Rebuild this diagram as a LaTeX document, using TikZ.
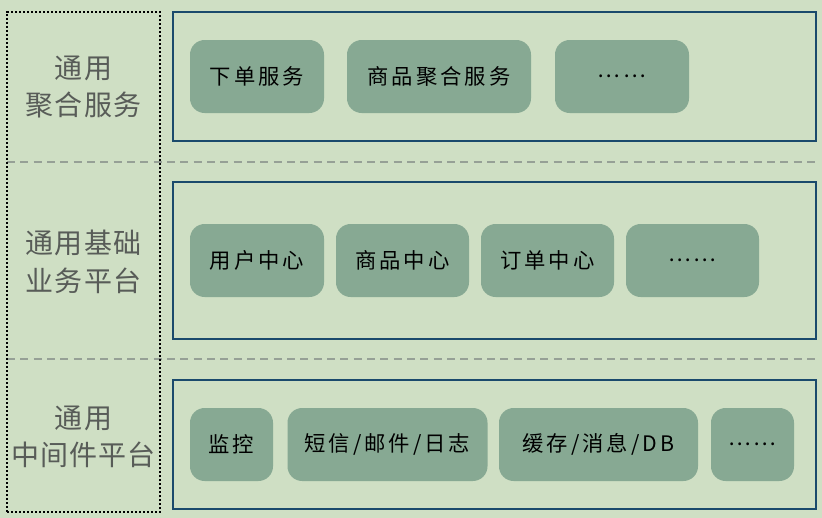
\documentclass[tikz,border=0pt]{standalone}
\usepackage{fontspec}
\usepackage{xcolor}
\newfontfamily\cjk[LetterSpace=14]{Noto Sans CJK SC}
\newfontfamily\cjklabel[LetterSpace=4]{Noto Sans CJK SC}
\definecolor{bgsage}{RGB}{207,223,196}
\definecolor{tilegreen}{RGB}{135,169,147}
\definecolor{layerblue}{RGB}{26,74,108}
\definecolor{labelgrey}{RGB}{88,92,88}
\definecolor{sepgrey}{RGB}{150,160,150}

\begin{document}
\begin{tikzpicture}[x=0.75pt,y=-0.75pt,
    layer box/.style={draw=layerblue,line width=1.5pt,rectangle,inner sep=0pt,minimum width=482.25pt},
    service/.style={fill=tilegreen,rounded corners=11pt,rectangle,inner sep=0pt,minimum height=54.75pt,
      font=\cjk\fontsize{16}{20}\selectfont,text=black},
    layer label/.style={align=center,text=labelgrey,font=\cjklabel\fontsize{21}{28}\selectfont},
    separator/.style={draw=sepgrey,dash pattern=on 6pt off 4pt,line width=0.9pt}]
                \fill[bgsage] (0,0) rectangle (822,518);
                \useasboundingbox (0,0) rectangle (822,518);
                \draw[separator] (7,162) -- (817,162);
                \draw[separator] (7,359) -- (817,359);
                \node[draw=black,dash pattern=on 1.6pt off 1.4pt,line width=1.8pt,rectangle,minimum width=114.75pt,minimum height=375pt] (side) at (83.5,262) {};
                \node[layer label] (aggLabel) at (83.5,87) {通用\\聚合服务};
                \node[layer label] (baseLabel) at (83.5,262) {通用基础\\业务平台};
                \node[layer label] (midLabel) at (83.5,437) {通用\\中间件平台};
                \node[layer box,minimum height=96.75pt] (aggLayer) at (494.5,76.5) {};
                \node[layer box,minimum height=117.75pt] (baseLayer) at (494.5,260.5) {};
                \node[layer box,minimum height=96.75pt] (midLayer) at (494.5,444.5) {};
                \node[service,minimum width=100.5pt] (order) at (257,76.5) {下单服务};
                \node[service,minimum width=138pt] (goodsAgg) at (439,76.5) {商品聚合服务};
                \node[service,minimum width=100.5pt] (aggMore) at (622,76.5) {……};
                \node[service,minimum width=100.5pt] (userCenter) at (257,260.5) {用户中心};
                \node[service,minimum width=99.75pt] (goodsCenter) at (402.5,260.5) {商品中心};
                \node[service,minimum width=99.75pt] (orderCenter) at (547.5,260.5) {订单中心};
                \node[service,minimum width=99.75pt] (baseMore) at (692.5,260.5) {……};
                \node[service,minimum width=62.25pt] (monitor) at (231.5,444.5) {监控};
                \node[service,minimum width=150pt] (notify) at (387.5,444.5) {短信/邮件/日志};
                \node[service,minimum width=149.25pt] (cache) at (598.5,444.5) {缓存/消息/DB};
                \node[service,minimum width=62.25pt] (midMore) at (752.5,444.5) {……};
            \end{tikzpicture}
\end{document}
